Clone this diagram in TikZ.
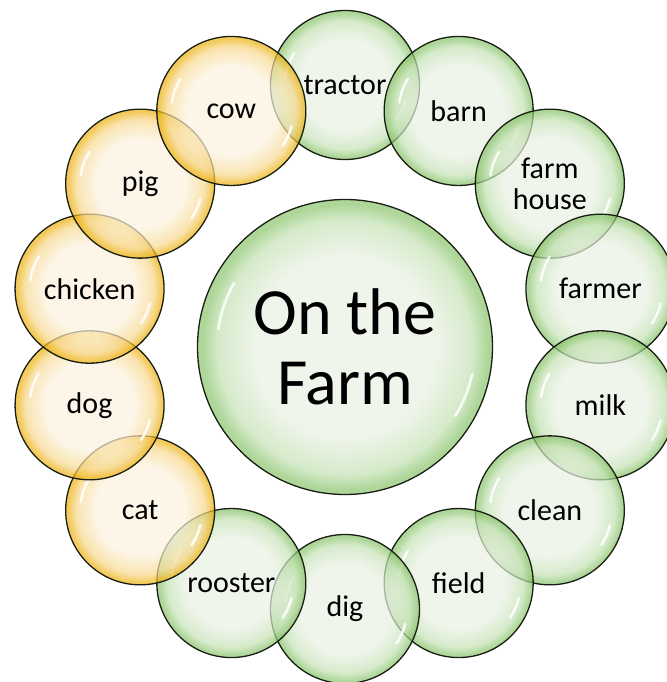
\documentclass[tikz,border=0pt]{standalone}
\usepackage{fontspec}
\setmainfont{Carlito}
\definecolor{gIn}{RGB}{234,241,228}
\definecolor{gMid}{RGB}{196,226,180}
\definecolor{gEdge}{RGB}{138,196,108}
\definecolor{oIn}{RGB}{252,242,222}
\definecolor{oMid}{RGB}{247,216,140}
\definecolor{oEdge}{RGB}{238,178,18}
\definecolor{rim}{RGB}{24,30,18}
\pgfdeclareradialshading{bubbleG}{\pgfpoint{0bp}{0bp}}{color(0bp)=(gIn); color(15bp)=(gIn); color(21.5bp)=(gMid); color(24.3bp)=(gEdge); color(25bp)=(gEdge); color(50bp)=(gEdge)}
\pgfdeclareradialshading{bubbleO}{\pgfpoint{0bp}{0bp}}{color(0bp)=(oIn); color(15bp)=(oIn); color(21.5bp)=(oMid); color(24.3bp)=(oEdge); color(25bp)=(oEdge); color(50bp)=(oEdge)}
\tikzset{
  bubble/.style={circle, inner sep=0pt, minimum size=149pt, draw=rim, line width=1.3pt,
    shade, fill opacity=0.7, text opacity=1, align=center,
    font=\fontsize{30}{31}\selectfont},
  gbub/.style={bubble, shading=bubbleG},
  obub/.style={bubble, shading=bubbleO},
  hub/.style={circle, inner sep=0pt, minimum size=295pt, draw=rim, line width=1.3pt,
    shade, shading=bubbleG, fill opacity=0.7, text opacity=1, align=center,
    font=\fontsize{66}{70}\selectfont},
  gloss/.style={white, line width=2.6pt, opacity=0.85, line cap=round}
}
\begin{document}
\begin{tikzpicture}[x=1pt, y=-1pt]
\useasboundingbox (0,0) rectangle (666,682);
\node[hub] (center) at (345,347) {On the\\Farm};
\foreach \k/\nm/\txt/\st in {0/tractor/tractor/gbub, 1/barn/barn/gbub, 2/farmhouse/farm\\house/gbub,
  3/farmer/farmer/gbub, 4/milk/milk/gbub, 5/clean/clean/gbub, 6/field/field/gbub, 7/dig/dig/gbub,
  8/rooster/rooster/gbub, 9/cat/cat/obub, 10/dog/dog/obub, 11/chicken/chicken/obub, 12/pig/pig/obub,
  13/cow/cow/obub}{
  \pgfmathsetmacro{\ang}{90-\k*360/14}
  \node[\st] (\nm) at ({345+262*cos(\ang)},{347-262*sin(\ang)}) {\txt};
  \draw[gloss] ([shift={(148:60pt)}]\nm.center) arc[start angle=148, end angle=172, radius=60pt];
  \draw[gloss] ([shift={(-14:62pt)}]\nm.center) arc[start angle=-14, end angle=-34, radius=62pt];
}
\draw[gloss] ([shift={(150:128pt)}]center.center) arc[start angle=150, end angle=172, radius=128pt];
\draw[gloss] ([shift={(-12:130pt)}]center.center) arc[start angle=-12, end angle=-32, radius=130pt];
\end{tikzpicture}
\end{document}
